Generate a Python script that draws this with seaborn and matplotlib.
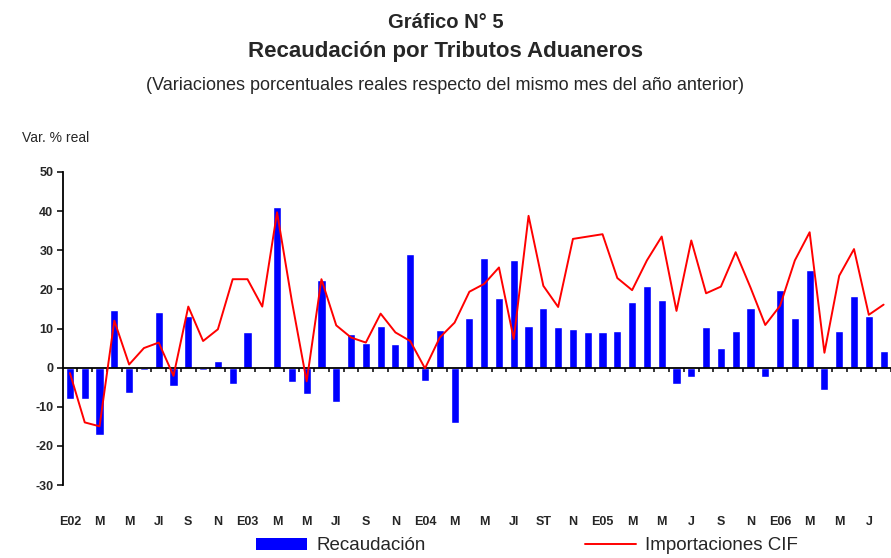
import numpy as np
import matplotlib
matplotlib.use('Agg')
import matplotlib.pyplot as plt
import matplotlib.transforms as mtransforms
from matplotlib.patches import Patch
from matplotlib.lines import Line2D
import seaborn as sns

# Monthly data, Jan 2002 .. Aug 2006 (real % change vs same month previous year)
recaudacion = [-8.0, -8.0, -17.2, 14.8, -6.4, -0.7, 14.2, -4.8, 13.2, -0.7, 1.7, -4.3,
               9.0, 0.0, 41.0, -3.8, -6.8, 22.5, -8.8, 8.5, 6.2, 10.7, 6.0, 29.1,
               -3.4, 9.6, -14.1, 12.6, 28.0, 17.8, 27.6, 10.6, 15.2, 10.5, 10.0, 9.0,
               9.0, 9.4, 16.7, 20.8, 17.3, -4.3, -2.3, 10.5, 4.9, 9.4, 15.2, -2.3,
               19.8, 12.6, 25.0, -5.8, 9.4, 18.2, 13.1, 4.3]
importaciones = [-1.4, -14.0, -15.0, 12.0, 0.8, 5.0, 6.4, -2.1, 15.6, 6.8, 9.8, 22.6,
                 22.6, 15.6, 39.7, 17.0, -3.5, 22.6, 10.8, 7.7, 6.4, 13.8, 9.0, 6.8,
                 -0.2, 7.7, 11.5, 19.4, 21.4, 25.6, 7.3, 38.8, 20.9, 15.5, 32.9, 33.5,
                 34.1, 22.9, 19.8, 27.4, 33.5, 14.5, 32.5, 19.0, 20.7, 29.5, 20.5, 10.9,
                 15.8, 27.4, 34.6, 3.8, 23.5, 30.3, 13.5, 16.1]
tick_labels = ['E02', 'M', 'M', 'Jl', 'S', 'N', 'E03', 'M', 'M', 'Jl', 'S', 'N',
               'E04', 'M', 'M', 'Jl', 'ST', 'N', 'E05', 'M', 'M', 'J', 'S', 'N',
               'E06', 'M', 'M', 'J']

months = np.arange(len(recaudacion))

sns.set_style('white')
plt.rcParams['font.family'] = ['Liberation Sans', 'DejaVu Sans']

fig = plt.figure(figsize=(8.91, 5.58), dpi=100)
ax = fig.add_axes([63 / 891, 73 / 558, 1 - 63 / 891, 313 / 558])

sns.barplot(x=months, y=recaudacion, color='#0000ff', saturation=1, width=0.55,
            ax=ax, zorder=2)
sns.lineplot(x=months, y=importaciones, color='#ff0000', linewidth=1.4, ax=ax, zorder=3)

ax.set_xlim(-0.47, 55.36)
ax.set_ylim(-30, 50)
ax.set_yticks(range(-30, 51, 10))
ax.set_yticklabels([str(v) for v in range(-30, 51, 10)], fontsize=9, fontweight='bold')
ax.tick_params(axis='y', direction='out', length=4, width=1.3, pad=3, left=True)

# x axis drawn at zero with a tick between every month
ax.spines['bottom'].set_position(('data', 0))
ax.set_xticks(months + 0.5)
ax.set_xticklabels([])
ax.tick_params(axis='x', direction='out', length=3, width=1.3, bottom=True)
for s in ['top', 'right']:
    ax.spines[s].set_visible(False)
for s in ['left', 'bottom']:
    ax.spines[s].set_linewidth(1.3)
    ax.spines[s].set_color('black')
ax.set_xlabel('')
ax.set_ylabel('')

# month labels at the bottom of the chart
trans = mtransforms.blended_transform_factory(ax.transData, fig.transFigure)
for i, lab in enumerate(tick_labels):
    ax.text(months[2 * i], 1 - 522 / 558, lab, transform=trans, ha='center', va='center',
            fontsize=9, fontweight='bold', clip_on=False)

fig.text(0.5, 1 - 22 / 558, 'Gráfico N° 5', ha='center', va='center',
         fontsize=14.5, fontweight='bold')
fig.text(0.5, 1 - 52 / 558, 'Recaudación por Tributos Aduaneros', ha='center', va='center',
         fontsize=16, fontweight='bold')
fig.text(0.5, 1 - 86 / 558,
         '(Variaciones porcentuales reales respecto del mismo mes del año anterior)',
         ha='center', va='center', fontsize=13)
fig.text(22 / 891, 1 - 138 / 558, 'Var. % real', ha='left', va='center', fontsize=10)

handles = [Patch(facecolor='#0000ff', edgecolor='none'),
           Line2D([0], [0], color='#ff0000', linewidth=1.4)]
fig.legend(handles, ['Recaudación', 'Importaciones CIF'], loc='center',
           bbox_to_anchor=(527 / 891, 1 - 546 / 558), ncol=2, frameon=False,
           fontsize=13.5, handlelength=2.7, handleheight=0.6, handletextpad=0.5,
           columnspacing=8.5)

fig.savefig('out.png', dpi=100)
